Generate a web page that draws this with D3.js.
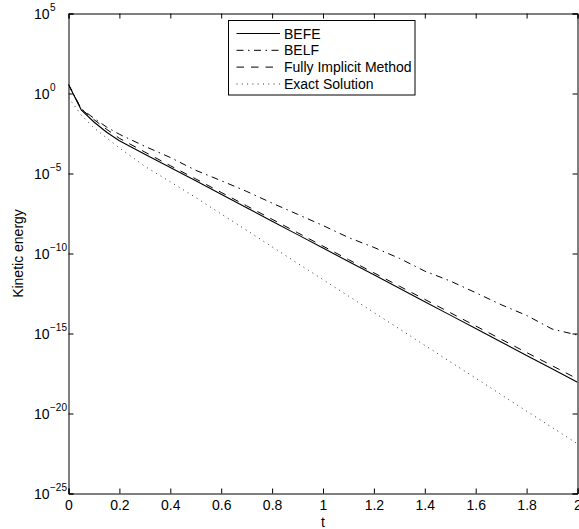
<!DOCTYPE html>
<html>
<head>
<meta charset="utf-8">
<script src="https://cdn.jsdelivr.net/npm/d3@7"></script>
<style>
  html, body { margin: 0; padding: 0; background: #fff; }
  svg { display: block; }
  text { font-family: "Liberation Sans", Arial, Helvetica, sans-serif; fill: #000; }
</style>
</head>
<body>
<svg id="chart" width="579" height="529"></svg>
<script>
// ---- data ----
const tValues = [0, 0.05, 0.1, 0.15, 0.2, 0.3, 0.4, 0.5, 0.6, 0.7, 0.8, 0.9, 1.0,
                 1.1, 1.2, 1.3, 1.4, 1.5, 1.6, 1.7, 1.8, 1.9, 2.0];
const befe = [3.63, 9.55e-2, 1.66e-2, 3.80e-3, 1.12e-3, 1.62e-4, 2.34e-5, 3.47e-6, 5.01e-7,
              7.24e-8, 1.05e-8, 1.51e-9, 2.19e-10, 3.16e-11, 4.68e-12, 6.76e-13, 9.77e-14,
              1.41e-14, 2.04e-15, 2.95e-16, 4.27e-17, 6.31e-18, 9.12e-19];
const belf = [3.63, 1.12e-1, 2.82e-2, 7.94e-3, 2.82e-3, 5.01e-4, 1.0e-4, 1.58e-5, 3.55e-6,
              7.59e-7, 1.41e-7, 2.82e-8, 5.62e-9, 1.0e-9, 2.40e-10, 5.01e-11, 7.94e-12,
              1.91e-12, 3.55e-13, 6.31e-14, 1.35e-14, 1.91e-15, 7.94e-16];
const fullyImplicit = [3.63, 1.07e-1, 2.34e-2, 5.75e-3, 1.58e-3, 2.19e-4, 3.09e-5, 4.57e-6,
              6.61e-7, 9.55e-8, 1.38e-8, 2.00e-9, 2.88e-10, 4.17e-11, 6.17e-12, 9.12e-13,
              1.35e-13, 2.00e-14, 2.95e-15, 4.37e-16, 6.46e-17, 9.77e-18, 1.45e-18];
const exact = [5.62e-1, 4.47e-2, 7.08e-3, 1.66e-3, 3.98e-4, 2.82e-5, 3.02e-6, 3.16e-7,
              2.95e-8, 2.82e-9, 2.63e-10, 2.45e-11, 2.34e-12, 2.19e-13, 2.04e-14, 1.95e-15,
              1.82e-16, 1.70e-17, 1.62e-18, 1.51e-19, 1.41e-20, 1.35e-21, 1.26e-22];
const seriesNames = ["BEFE", "BELF", "Fully Implicit Method", "Exact Solution"];
const xTicks = [0, 0.2, 0.4, 0.6, 0.8, 1, 1.2, 1.4, 1.6, 1.8, 2];
const yTickExponents = [5, 0, -5, -10, -15, -20, -25];
const xLabel = "t";
const yLabel = "Kinetic energy";

// ---- layout ----
const L = 68.5, R = 577.5, T = 13.5, B = 493.5;
const svg = d3.select("#chart");
const x = d3.scaleLinear().domain([0, 2]).range([L, R]);
const y = d3.scaleLog().domain([1e-25, 1e5]).range([B, T]);

svg.append("defs").append("clipPath").attr("id", "clip")
  .append("rect").attr("x", L).attr("y", T).attr("width", R - L).attr("height", B - T);

const styles = [
  { dash: null, color: "#000", width: 1.1 },
  { dash: "7,4.5,1.5,4.5", color: "#000", width: 1 },
  { dash: "7.5,7", color: "#000", width: 1 },
  { dash: "1,4.3", color: "#333", width: 1 }
];
const seriesData = [befe, belf, fullyImplicit, exact];

const line = d3.line().x(d => x(d[0])).y(d => y(d[1]));
const g = svg.append("g").attr("clip-path", "url(#clip)");
seriesData.forEach((vals, i) => {
  const pts = tValues.map((t, k) => [t, vals[k]]);
  g.append("path").datum(pts)
    .attr("d", line)
    .attr("fill", "none")
    .attr("stroke", styles[i].color)
    .attr("stroke-width", styles[i].width)
    .attr("stroke-dasharray", styles[i].dash);
});

// ---- axes (box with inward ticks) ----
const tickLen = 5;
const axBottom = d3.axisBottom(x).tickValues(xTicks).tickSize(-tickLen).tickPadding(7)
  .tickFormat(d => d3.format("")(d));
const gx = svg.append("g").attr("transform", `translate(0,${B})`).call(axBottom);
gx.select(".domain").attr("stroke", "#000").attr("stroke-width", 1);
gx.selectAll(".tick line").attr("stroke", "#000");
gx.selectAll(".tick text").attr("font-size", 14).attr("font-family", "Liberation Sans, Arial, sans-serif");

const axTop = d3.axisTop(x).tickValues(xTicks).tickSize(-tickLen).tickFormat("");
const gxt = svg.append("g").attr("transform", `translate(0,${T})`).call(axTop);
gxt.select(".domain").attr("stroke", "#000");
gxt.selectAll(".tick line").attr("stroke", "#000");

const yTickVals = yTickExponents.map(e => Math.pow(10, e));
const axLeft = d3.axisLeft(y).tickValues(yTickVals).tickSize(-tickLen).tickFormat("");
const gy = svg.append("g").attr("transform", `translate(${L},0)`).call(axLeft);
gy.select(".domain").attr("stroke", "#000");
gy.selectAll(".tick line").attr("stroke", "#000");

const axRight = d3.axisRight(y).tickValues(yTickVals).tickSize(-tickLen).tickFormat("");
const gyr = svg.append("g").attr("transform", `translate(${R},0)`).call(axRight);
gyr.select(".domain").attr("stroke", "#000");
gyr.selectAll(".tick line").attr("stroke", "#000");

// y tick labels as 10^e
yTickExponents.forEach(e => {
  const yy = y(Math.pow(10, e));
  svg.append("text").attr("font-size", 14)
    .attr("x", 49.5).attr("y", yy + 5).attr("text-anchor", "end").text("10");
  svg.append("text").attr("font-size", 10)
    .attr("x", 50).attr("y", yy - 2.5)
    .text(e < 0 ? "\u2212" + Math.abs(e) : String(e));
});

// axis labels
svg.append("text").attr("x", (L + R) / 2).attr("y", 527).attr("text-anchor", "middle")
  .attr("font-size", 14).text(xLabel);
svg.append("text").attr("transform", `translate(23,${(T + B) / 2}) rotate(-90)`)
  .attr("text-anchor", "middle").attr("font-size", 14).text(yLabel);

// ---- legend ----
const lg = svg.append("g");
lg.append("rect").attr("x", 228.5).attr("y", 20.5).attr("width", 186.5).attr("height", 74.5)
  .attr("fill", "#fff").attr("stroke", "#000").attr("stroke-width", 1);
const rowY = [33.5, 50.3, 67.1, 84];
seriesNames.forEach((name, i) => {
  lg.append("line").attr("x1", 236.5).attr("x2", 280).attr("y1", rowY[i]).attr("y2", rowY[i])
    .attr("stroke", styles[i].color).attr("stroke-width", styles[i].width)
    .attr("stroke-dasharray", styles[i].dash);
  lg.append("text").attr("x", 284).attr("y", rowY[i] + 5).attr("font-size", 14).text(name);
});
</script>
</body>
</html>
